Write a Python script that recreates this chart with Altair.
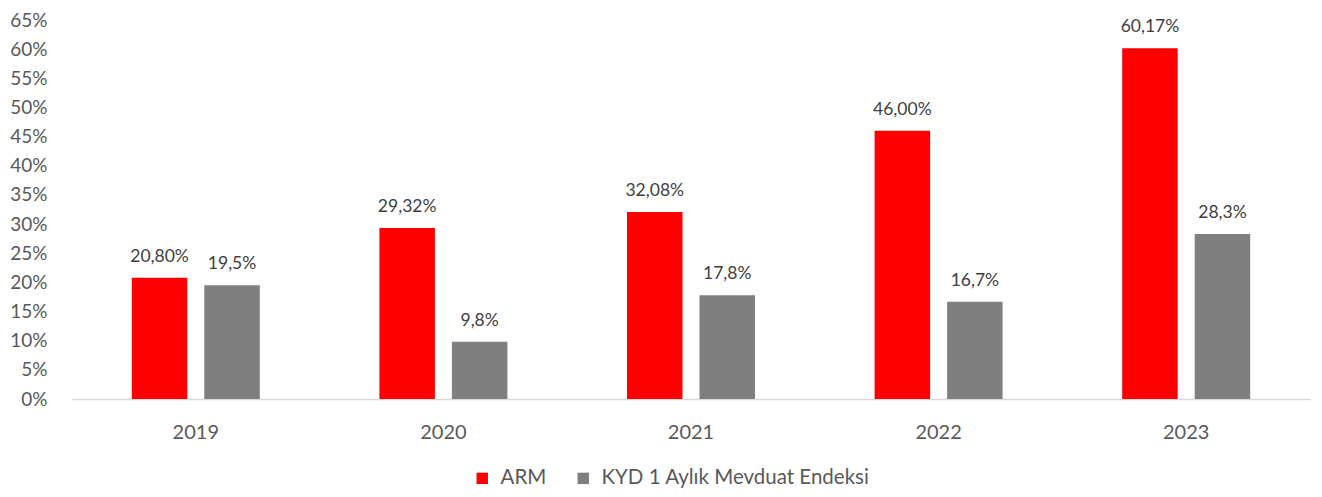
import altair as alt
import pandas as pd

years = ["2019", "2020", "2021", "2022", "2023"]
series = ["ARM", "KYD 1 Aylık Mevduat Endeksi"]
arm = [20.80, 29.32, 32.08, 46.00, 60.17]
kyd = [19.5, 9.8, 17.8, 16.7, 28.3]
arm_labels = ["20,80%", "29,32%", "32,08%", "46,00%", "60,17%"]
kyd_labels = ["19,5%", "9,8%", "17,8%", "16,7%", "28,3%"]
colors = ["#FF0000", "#7F7F7F"]
tick_values = [0, 0.05, 0.10, 0.15, 0.20, 0.25, 0.30, 0.35, 0.40, 0.45, 0.50, 0.55, 0.60, 0.65]

rows = []
for i, y in enumerate(years):
    rows.append(dict(year=y, series=series[0], value=arm[i] / 100, label=arm_labels[i]))
    rows.append(dict(year=y, series=series[1], value=kyd[i] / 100, label=kyd_labels[i]))
df = pd.DataFrame(rows)

FONT = "Lato"

base = alt.Chart(df).encode(
    x=alt.X(
        "year:N",
        sort=years,
        scale=alt.Scale(paddingInner=0, paddingOuter=0),
        axis=alt.Axis(
            title=None, labelAngle=0, ticks=False, domainColor="#d9d9d9",
            domainWidth=1.5, labelFont=FONT, labelFontSize=20,
            labelColor="#595959", labelPadding=23,
        ),
    ),
    xOffset=alt.XOffset(
        "series:N", sort=series,
        scale=alt.Scale(paddingInner=0.2345, paddingOuter=0.825),
    ),
    y=alt.Y(
        "value:Q",
        scale=alt.Scale(domain=[0, 0.65], nice=False),
        axis=alt.Axis(
            title=None, format=".0%", values=tick_values, grid=False,
            domain=False, ticks=False, labelFont=FONT, labelFontSize=19,
            labelColor="#595959", labelPadding=25,
        ),
    ),
)

bars = base.mark_bar().encode(
    color=alt.Color(
        "series:N", sort=series,
        scale=alt.Scale(domain=series, range=colors),
        legend=alt.Legend(
            title=None, orient="none", legendX=400, legendY=448,
            direction="horizontal", symbolType="square", symbolSize=130,
            symbolStrokeWidth=0, labelFont=FONT, labelFontSize=20.5,
            labelColor="#595959", columnPadding=26, labelOffset=8,
            labelLimit=400,
        ),
    )
)

text = base.mark_text(
    dy=-12, baseline="bottom", font=FONT, fontSize=17.5, color="#404040"
).encode(text="label:N")

chart = (bars + text).properties(
    width=1238, height=379,
    autosize=alt.AutoSizeParams(type="none"),
    padding={"left": 64, "top": 12, "right": 4, "bottom": 90},
).configure_view(stroke=None)

chart.save("out.html", embed_options={"renderer": "svg", "actions": False})
